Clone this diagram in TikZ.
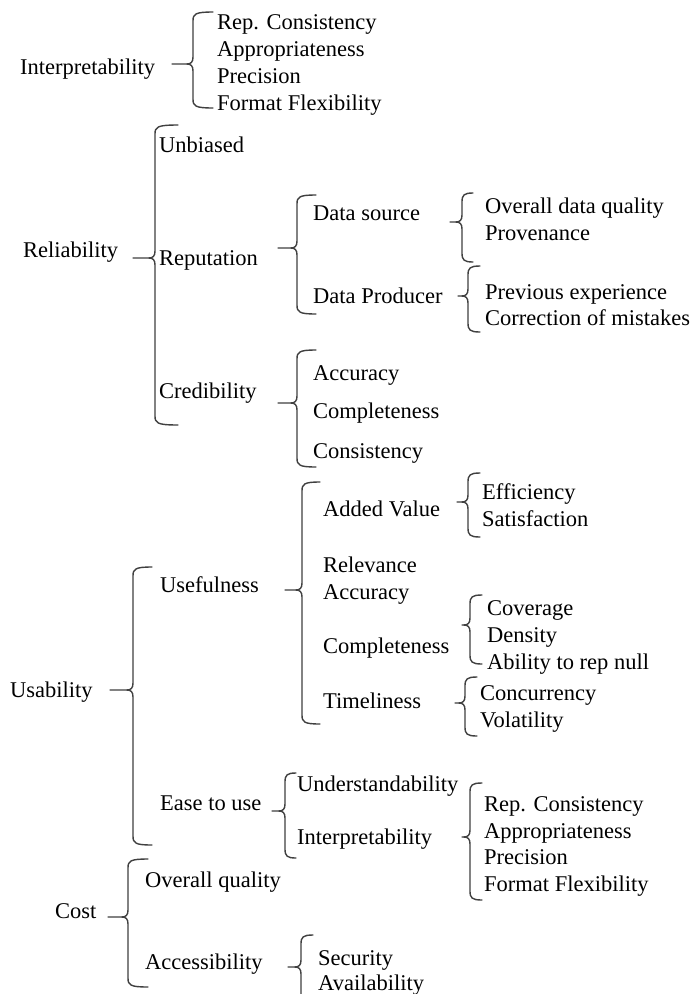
\documentclass[tikz,border=0pt]{standalone}
\usepackage{fontspec}
\setmainfont{Liberation Serif}
\newcommand\cbr[6]{% X T M B L R
 \draw[br] (#6,#2) .. controls (#1+2,#2) and (#1,#2+2) .. (#1,#2+9) -- (#1,#3-7) .. controls (#1,#3-2) and (#1-2,#3) .. (#1-6,#3) -- (#5,#3);
 \draw[br] (#1-6,#3) .. controls (#1-2,#3) and (#1,#3+2) .. (#1,#3+7) -- (#1,#4-9) .. controls (#1,#4-2) and (#1+2,#4) .. (#6,#4);
}
\begin{document}
\begin{tikzpicture}[x=1pt,y=-1pt,
  lbl/.style={anchor=base west,inner sep=0pt,font=\fontsize{22.5}{27}\selectfont},
  br/.style={line width=1.4pt,black!75,line cap=round}]
\useasboundingbox[fill=white] (0,0) rectangle (691,994);
% Top block
\node[lbl] (ti) at (20,74) {Interpretability};
\node[lbl] (ta1) at (217,29) {Rep. Consistency};
\node[lbl] (ta2) at (217,56) {Appropriateness};
\node[lbl] (ta3) at (217,83) {Precision};
\node[lbl] (ta4) at (217,110) {Format Flexibility};
\cbr{193}{12}{64}{108}{172}{213}
% Reliability
\node[lbl] (rel) at (23,257) {Reliability};
\cbr{155}{125}{258}{425}{133}{178}
\node[lbl] (unb) at (159,152) {Unbiased};
\node[lbl] (rep) at (159,265) {Reputation};
\node[lbl] (cred) at (159,398) {Credibility};
\cbr{297}{195}{248}{314}{278}{316}
\node[lbl] (ds) at (313,220) {Data source};
\node[lbl] (dp) at (313,303) {Data Producer};
\cbr{462}{193}{222}{262}{450}{473}
\node[lbl] (odq) at (485,213) {Overall data quality};
\node[lbl] (prov) at (485,240) {Provenance};
\cbr{468}{266}{296}{332}{458}{480}
\node[lbl] (pe) at (485,299) {Previous experience};
\node[lbl] (com) at (485,325) {Correction of mistakes};
\cbr{297}{350}{403}{467}{278}{316}
\node[lbl] (acc1) at (313,380) {Accuracy};
\node[lbl] (comp1) at (313,418) {Completeness};
\node[lbl] (cons1) at (313,458) {Consistency};
% Usability
\node[lbl] (usa) at (10,697) {Usability};
\cbr{133}{567}{690}{845}{110}{152}
\node[lbl] (usef) at (160,592) {Usefulness};
\cbr{302}{482}{590}{724}{285}{320}
\node[lbl] (av) at (323,516) {Added Value};
\node[lbl] (relv) at (323,572) {Relevance};
\node[lbl] (acc2) at (323,599) {Accuracy};
\node[lbl] (comp2) at (323,653) {Completeness};
\node[lbl] (time) at (323,708) {Timeliness};
\cbr{468}{473}{502}{537}{457}{480}
\node[lbl] (eff) at (482,499) {Efficiency};
\node[lbl] (sat) at (482,526) {Satisfaction};
\cbr{470}{595}{625}{664}{462}{482}
\node[lbl] (cov) at (487,615) {Coverage};
\node[lbl] (den) at (487,642) {Density};
\node[lbl] (abl) at (487,669) {Ability to rep null};
\cbr{465}{677}{703}{736}{455}{477}
\node[lbl] (conc) at (480,700) {Concurrency};
\node[lbl] (vol) at (480,727) {Volatility};
\node[lbl] (ease) at (160,810) {Ease to use};
\cbr{285}{773}{811}{858}{272}{296}
\node[lbl] (und) at (297,791) {Understandability};
\node[lbl] (int2) at (297,844) {Interpretability};
\cbr{470}{783}{837}{900}{462}{482}
\node[lbl] (ba1) at (484,811) {Rep. Consistency};
\node[lbl] (ba2) at (484,838) {Appropriateness};
\node[lbl] (ba3) at (484,864) {Precision};
\node[lbl] (ba4) at (484,891) {Format Flexibility};
% Cost
\node[lbl] (cost) at (55,918) {Cost};
\cbr{128}{859}{917}{987}{108}{148}
\node[lbl] (oq) at (145,887) {Overall quality};
\node[lbl] (acs) at (145,969) {Accessibility};
\cbr{301}{935}{967}{1010}{288}{313}
\node[lbl] (sec) at (318,965) {Security};
\node[lbl] (avl) at (318,990) {Availability};
\end{tikzpicture}
\end{document}
